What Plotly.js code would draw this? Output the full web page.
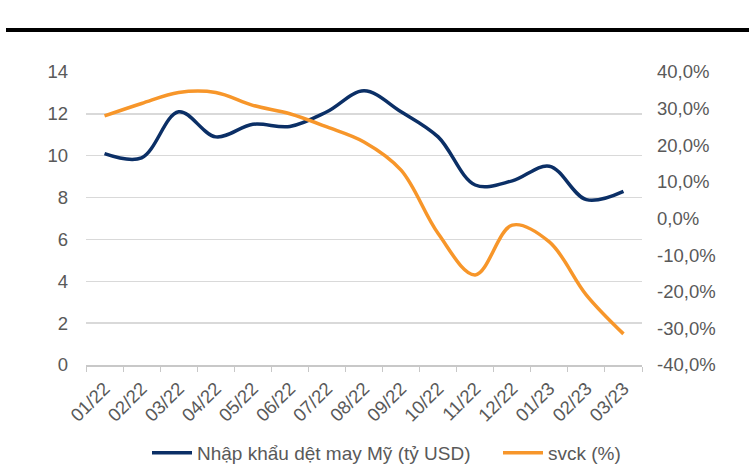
<!DOCTYPE html>
<html>
<head>
<meta charset="utf-8">
<script src="https://cdn.plot.ly/plotly-3.0.1.min.js"></script>
<style>
html,body{margin:0;padding:0;background:#fff;}
#chart{width:749px;height:464px;}
</style>
</head>
<body>
<div id="chart"></div>
<script>
const months = ["01/22","02/22","03/22","04/22","05/22","06/22","07/22","08/22","09/22","10/22","11/22","12/22","01/23","02/23","03/23"];
const importValues = [10.1, 9.9, 12.1, 10.9, 11.5, 11.4, 12.1, 13.1, 12.1, 10.9, 8.6, 8.8, 9.5, 7.9, 8.3];
const yoyValues = [28.0, 31.4, 34.4, 34.4, 30.9, 28.6, 25.0, 20.9, 13.2, -4.1, -15.4, -1.8, -6.4, -20.9, -31.5];
const leftTicks = [0, 2, 4, 6, 8, 10, 12, 14];
const rightTickVals = [-40, -30, -20, -10, 0, 10, 20, 30, 40];
const rightTickText = ["-40,0%","-30,0%","-20,0%","-10,0%","0,0%","10,0%","20,0%","30,0%","40,0%"];
const seriesNames = ["Nhập khẩu dệt may Mỹ (tỷ USD)", "svck (%)"];

const W = 749, H = 464;
const m = {l: 86, r: 107, t: 72, b: 99, autoexpand: false};
const plotW = W - m.l - m.r;
const plotH = H - m.t - m.b;
const lineY = (H - m.b - 30) / plotH;
const legendY = (H - m.b - 453) / plotH;

const font = {family: "Liberation Sans, Arial, sans-serif", size: 18.5, color: "#595959"};
const legendFont = {family: "Liberation Sans, Arial, sans-serif", size: 19, color: "#595959"};

const traces = [
  {
    x: months, y: importValues, name: seriesNames[0], type: "scatter", mode: "lines",
    line: {color: "#0b2f66", width: 3.5, shape: "spline", smoothing: 1},
    yaxis: "y", legend: "legend"
  },
  {
    x: months, y: yoyValues, name: seriesNames[1], type: "scatter", mode: "lines",
    line: {color: "#f7962a", width: 3.5, shape: "spline", smoothing: 1},
    yaxis: "y2", legend: "legend2"
  }
];

const legendBase = {orientation: "h", xanchor: "left", y: legendY, yanchor: "middle",
  font: legendFont, itemwidth: 40, tracegroupgap: 0, bgcolor: "rgba(0,0,0,0)"};

const layout = {
  width: W, height: H,
  margin: m,
  paper_bgcolor: "#fff", plot_bgcolor: "#fff",
  font: font,
  showlegend: true,
  legend: Object.assign({}, legendBase, {x: (147 - m.l) / plotW}),
  legend2: Object.assign({}, legendBase, {x: (498 - m.l) / plotW}),
  xaxis: {
    type: "category", range: [-0.5, months.length - 0.5], tickangle: -45, tickson: "boundaries",
    ticks: "outside", ticklen: 5, tickcolor: "#c8c8c8", tickwidth: 1,
    showline: true, linecolor: "#c8c8c8", linewidth: 1.5, automargin: false,
    showgrid: false, zeroline: false, tickfont: font, fixedrange: true,
    ticklabelstandoff: 4
  },
  yaxis: {
    range: [0, 14], tickvals: leftTicks, ticks: "", showline: false, automargin: false,
    gridcolor: "#d9d9d9", gridwidth: 1.5, zeroline: false, tickfont: font,
    ticklabelstandoff: 17
  },
  yaxis2: {
    overlaying: "y", side: "right", range: [-40, 40], automargin: false,
    tickvals: rightTickVals, ticktext: rightTickText,
    showgrid: false, zeroline: false, showline: false, ticks: "", tickfont: font,
    ticklabelstandoff: 14
  },
  shapes: [
    {type: "line", xref: "paper", yref: "paper",
     x0: (6 - m.l) / plotW, x1: (W - m.l) / plotW,
     y0: lineY, y1: lineY, line: {color: "#000", width: 4}}
  ]
};

Plotly.newPlot("chart", traces, layout, {displayModeBar: false, staticPlot: true});
</script>
</body>
</html>
